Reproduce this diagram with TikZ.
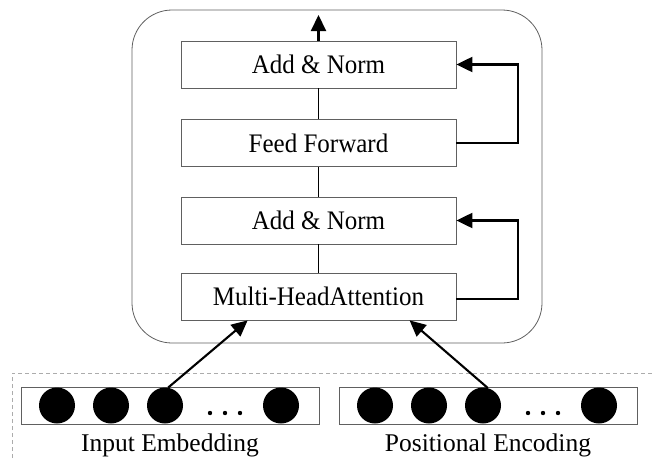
\documentclass[tikz,border=0pt]{standalone}
\usepackage{fontspec}
\usepackage{graphicx}
\setmainfont{Liberation Serif}
\usetikzlibrary{arrows.meta,calc}
\newcommand{\tallt}[1]{\scalebox{1}[1.07]{#1}}
\begin{document}
\begin{tikzpicture}[x=1pt,y=-1pt,
  blk/.style={draw=gray!75!black, line width=0.8pt, minimum width=275pt, minimum height=47pt, inner sep=0pt, font=\fontsize{25}{30}\selectfont},
  embbox/.style={draw=gray!75!black, line width=0.8pt, minimum width=298pt, minimum height=37pt, inner sep=0pt},
  conn/.style={line width=1.6pt},
  arr/.style={line width=2.1pt, -{Triangle[length=16pt,width=15pt]}},
  dotc/.style={circle, fill=black, minimum size=36pt, inner sep=0pt},
  smalldot/.style={circle, fill=black, minimum size=4.4pt, inner sep=0pt},
  lbl/.style={font=\fontsize{25.5}{30}\selectfont, anchor=base, inner sep=0pt}]
\useasboundingbox (0,0) rectangle (653,458);
% outer rounded frame
\draw[gray!75!black, line width=0.8pt, rounded corners=40pt] (132,10) rectangle (542,343);
% dashed frame
\draw[gray!65, line width=0.8pt, dash pattern=on 4pt off 3pt] (12,458) -- (12,373) -- (653,373);
% blocks
\node[blk] (an2) at (318.5,64.5) {\tallt{Add \& Norm}};
\node[blk] (ff)  at (318.5,143) {\tallt{Feed Forward}};
\node[blk] (an1) at (318.5,220.5) {\tallt{Add \& Norm}};
\node[blk] (mha) at (318.5,296.5) {\tallt{Multi-HeadAttention}};
\coordinate (out) at (318.5,15);
% vertical connectors
\draw[conn] (mha.north) -- (an1.south);
\draw[conn] (an1.north) -- (ff.south);
\draw[conn] (ff.north) -- (an2.south);
\draw[arr] (an2.north) -- (out);
% residual arrows
\draw[arr] (ff.east) -- ++(62,0) |- (an2.east);
\draw[arr] ($(mha.east)+(0,2.5)$) -- ++(62,0) |- (an1.east);
% embedding boxes
\node[embbox] (e1) at (170,405.5) {};
\node[embbox] (e2) at (488,405.5) {};
\node[dotc] (c11) at (57,405.5) {};
\node[dotc] (c12) at (111,405.5) {};
\node[dotc] (c13) at (165,405.5) {};
\node[dotc] (c14) at (281,405.5) {};
\node[smalldot] (d11) at (210,413) {};
\node[smalldot] (d12) at (225,413) {};
\node[smalldot] (d13) at (240,413) {};
\node[dotc] (c21) at (375,405.5) {};
\node[dotc] (c22) at (429,405.5) {};
\node[dotc] (c23) at (483,405.5) {};
\node[dotc] (c24) at (599,405.5) {};
\node[smalldot] (d21) at (528,413) {};
\node[smalldot] (d22) at (543,413) {};
\node[smalldot] (d23) at (558,413) {};
% input arrows
\draw[arr] (c13.80) -- ($(mha.south west)+(67,0)$);
\draw[arr] (c23.75) -- ($(mha.south west)+(229,0)$);
% labels
\node[lbl] (l1) at (170,451) {Input Embedding};
\node[lbl] (l2) at (488,451) {Positional Encoding};
\end{tikzpicture}
\end{document}
